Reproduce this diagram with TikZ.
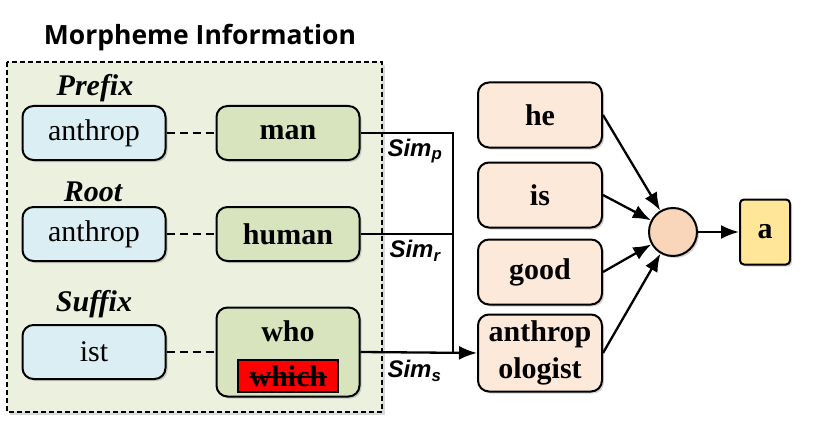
\documentclass[tikz,border=0pt]{standalone}
\usepackage{fontspec}
\setmainfont{Liberation Serif}
\setsansfont{Liberation Sans}
\newfontfamily\titlefont{Open Sans}
\usetikzlibrary{arrows.meta,shadows}
\definecolor{bgbox}{HTML}{EBF1DE}
\definecolor{morphblue}{HTML}{DAEEF3}
\definecolor{wordgreen}{HTML}{D7E4BD}
\definecolor{tokpeach}{HTML}{FDE9D9}
\definecolor{dotpeach}{HTML}{F9D5B9}
\definecolor{outyellow}{HTML}{FFE699}
\newcommand{\bigtxt}{\fontsize{30}{36}\selectfont}
\newcommand{\simlab}[1]{\fontsize{24}{28}\selectfont\sffamily\bfseries\itshape Sim\textsubscript{#1}}

\begin{document}
\begin{tikzpicture}[x=1pt,y=-1pt,>={Latex[length=18pt,width=14pt]},
    box/.style={draw,line width=2pt,rounded corners=11pt,minimum width=143pt,minimum height=54pt,
        font=\bigtxt,drop shadow={opacity=0.35,shadow xshift=2pt,shadow yshift=-2pt}},
    tok/.style={box,fill=tokpeach,minimum width=124pt,minimum height=65pt,font=\bigtxt\bfseries,align=center},
    lbl/.style={font=\bigtxt\bfseries\itshape},
    link/.style={line width=2.3pt}]
    \useasboundingbox (0,0) rectangle (831,428);
    \draw[line width=1.2pt,dash pattern=on 5pt off 3pt,fill=bgbox,drop shadow={opacity=0.3,shadow xshift=3pt,shadow yshift=-3pt}] (7,62) rectangle (382,412);
    \node (title) at (200,38) {\titlefont\fontsize{26.5}{30}\selectfont\bfseries Morpheme Information};
    % morphemes and their meanings
    \node[lbl] (pre) at (95,88) {Prefix};
    \node[lbl] (root) at (93,192) {Root};
    \node[lbl] (suf) at (94,304) {Suffix};
    \node[box,fill=morphblue] (m1) at (94,133) {anthrop};
    \node[box,fill=morphblue] (m2) at (94,234) {anthrop};
    \node[box,fill=morphblue] (m3) at (94,352) {ist};
    \node[box,fill=wordgreen,font=\bigtxt\bfseries] (man) at (288,133) {man};
    \node[box,fill=wordgreen,font=\bigtxt\bfseries] (human) at (288,234) {human};
    \node[box,fill=wordgreen,minimum height=89pt] (who) at (288,352) {};
    \node[font=\bigtxt\bfseries] (whotxt) at (288,331) {who};
    \node[draw,line width=1.4pt,fill=red,minimum width=100pt,minimum height=32pt,inner sep=0pt,font=\bigtxt\bfseries] (which) at (288,376) {which};
    \draw[line width=1.8pt] ([xshift=-39pt,yshift=-1pt]which.center) -- ([xshift=39pt,yshift=-1pt]which.center);
    \foreach \a/\b in {m1/man,m2/human,m3/who}
        \draw[link,dash pattern=on 8pt off 5pt] (\a) -- (\b);
    % sentence tokens
    \node[tok] (he) at (540,115) {he};
    \node[tok] (is) at (540,195) {is};
    \node[tok] (good) at (540,272) {good};
    \node[tok,minimum height=77pt] (anth) at (540,353) {anthrop\\[1pt]ologist};
    \node[draw,line width=2pt,circle,fill=dotpeach,minimum size=48pt,drop shadow={opacity=0.35,shadow xshift=2pt,shadow yshift=-2pt}] (dot) at (673,232) {};
    \node[draw,line width=2pt,rounded corners=4pt,fill=outyellow,minimum width=50pt,minimum height=65pt,font=\bigtxt\bfseries,drop shadow={opacity=0.35,shadow xshift=2pt,shadow yshift=-2pt}] (out) at (765,232) {a};
    % similarity lines
    \coordinate (join) at (453,352);
    \draw[link] (man.east) -| (join);
    \draw[link] (human.east) -- (human.east -| join);
    \draw[link,->] (who.east) -- (anth.west);
    \node[anchor=west] (simp) at (384,151) {\simlab{p}};
    \node[anchor=west] (simr) at (386,251) {\simlab{r}};
    \node[anchor=west] (sims) at (384,371) {\simlab{s}};
    \foreach \t in {he,is,good,anth}
        \draw[link,->] (\t.east) -- (dot);
    \draw[link,->] (dot) -- (out);
\end{tikzpicture}
\end{document}
